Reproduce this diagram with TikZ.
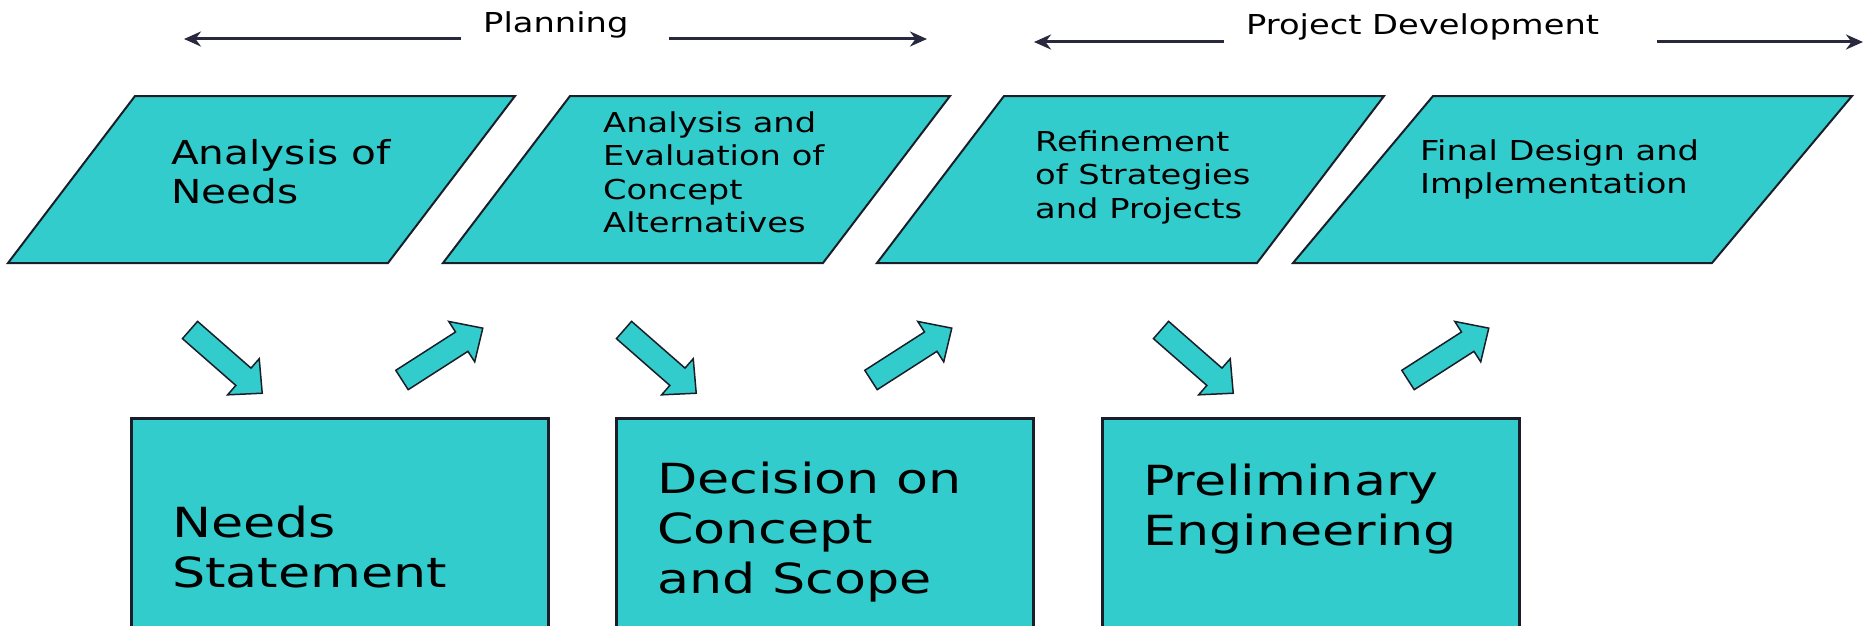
\documentclass[tikz,border=0pt]{standalone}
\usepackage{fontspec}
\setmainfont[FakeStretch=1.23]{DejaVu Sans}
\newfontfamily\widefont[FakeStretch=1.26]{DejaVu Sans}
\usetikzlibrary{arrows.meta}
\definecolor{tealfill}{RGB}{51,204,204}
\definecolor{edgecol}{RGB}{25,30,40}
\definecolor{navycol}{RGB}{40,40,62}
\newcommand\blkarrow[2]{\draw[barrow, shift={(#1)}, rotate=#2] (0,-11.5) -- (71,-11.5) -- (71,-24) -- (96,0) -- (71,24) -- (71,11.5) -- (0,11.5) -- cycle;}
\begin{document}
\begin{tikzpicture}[x=1pt,y=-1pt,
  para/.style={draw=edgecol, line width=2pt, fill=tealfill, line join=miter},
  bigbox/.style={draw=edgecol, line width=2.5pt, fill=tealfill, rectangle, inner sep=0pt, anchor=north west, minimum width=417pt, minimum height=240pt},
  barrow/.style={draw=edgecol, line width=1.5pt, fill=tealfill, line join=miter},
  toparrow/.style={draw=navycol, line width=3pt, -{Stealth[length=17pt,width=15pt]}},
  lbl/.style={inner sep=0pt, anchor=north west, align=left, text=black},
  small/.style={font=\fontsize{27.4}{33.5}\selectfont},
  large/.style={font=\widefont\fontsize{41.5}{50}\selectfont}
  ]
\useasboundingbox (0,0) rectangle (1872,626);
\clip (0,0) rectangle (1872,626);

% top phase labels and arrows
\node[lbl, small, anchor=base west] (plan) at (483,33) {Planning};
\node[lbl, small, anchor=base west] (pd) at (1246,35) {Project Development};
\coordinate (planLs) at (461,39);
\coordinate (planLe) at (184,39);
\coordinate (planRs) at (669,39);
\coordinate (planRe) at (927,39);
\coordinate (pdLs) at (1224,42);
\coordinate (pdLe) at (1034,42);
\coordinate (pdRs) at (1657,42);
\coordinate (pdRe) at (1863,42);
\draw[toparrow] (planLs) -- (planLe);
\draw[toparrow] (planRs) -- (planRe);
\draw[toparrow] (pdLs) -- (pdLe);
\draw[toparrow] (pdRs) -- (pdRe);

% parallelograms
\draw[para] (135,96) -- (515,96) -- (388,263) -- (8,263) -- cycle;
\draw[para] (570,96) -- (950,96) -- (823,263) -- (443,263) -- cycle;
\draw[para] (1004,96) -- (1384,96) -- (1257,263) -- (877,263) -- cycle;
\draw[para] (1433,96) -- (1852,96) -- (1712,263) -- (1293,263) -- cycle;

\node[lbl, font=\fontsize{33}{39}\selectfont] (p1) at (171,139) {Analysis of\\Needs};
\node[lbl, small] (p2) at (603,111) {Analysis and\\Evaluation of\\Concept\\Alternatives};
\node[lbl, small] (p3) at (1035,130) {Refinement\\of Strategies\\and Projects};
\node[lbl, small] (p4) at (1420,139) {Final Design and\\Implementation};

% block arrows
\blkarrow{190,330}{-41.2}
\blkarrow{624,330}{-41.2}
\blkarrow{1161,330}{-41.2}
\blkarrow{402,380}{32.7}
\blkarrow{871,380}{32.7}
\blkarrow{1408,380}{32.7}

% bottom boxes
\node[bigbox] (b1) at (130,417) {};
\node[bigbox] (b2) at (615,417) {};
\node[bigbox] (b3) at (1101,417) {};
\node[lbl, large] (t1) at (172,505.5) {Needs\\Statement};
\node[lbl, large] (t2) at (657,461.5) {Decision on\\Concept\\and Scope};
\node[lbl, large] (t3) at (1143,463.5) {Preliminary\\Engineering};
\end{tikzpicture}
\end{document}
